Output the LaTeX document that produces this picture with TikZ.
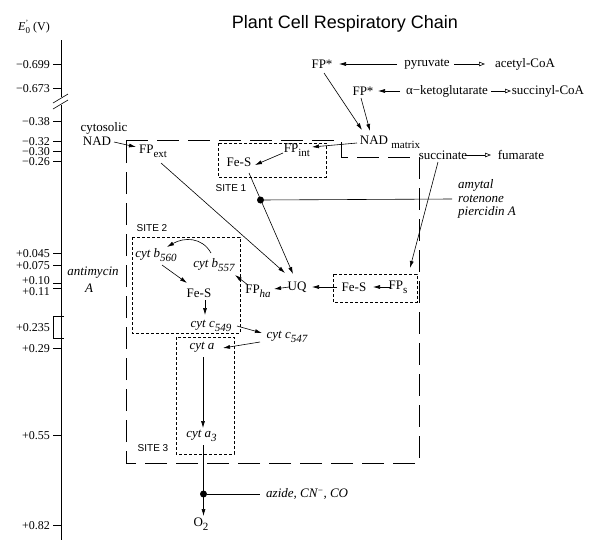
\documentclass[tikz,border=0pt]{standalone}
\usepackage{fontspec}
\setmainfont{Liberation Serif}
\newfontfamily\arialf{Liberation Sans}
\usetikzlibrary{arrows.meta,calc}
\newcommand{\sbs}[1]{\raisebox{-4pt}{\fontsize{11}{11}\selectfont #1}}
\begin{document}
\begin{tikzpicture}[x=1pt,y=-1pt,
 lbl/.style={font=\fontsize{13}{13}\selectfont, inner sep=0pt},
 itl/.style={font=\fontsize{13}{13}\selectfont\itshape, inner sep=0pt},
 sitelbl/.style={font=\arialf\fontsize{10}{10}\selectfont, inner sep=0pt},
 ticklbl/.style={font=\fontsize{12}{12}\selectfont, inner sep=0pt, anchor=east, text height=8pt, text depth=0pt},
 arr/.style={line width=0.6pt, -{Latex[length=7pt,width=4pt]}},
 oarr/.style={line width=0.6pt, -{Triangle[open,length=6pt,width=4.5pt]}},
 ln/.style={line width=0.6pt},
 dotbox/.style={line width=0.7pt, dash pattern=on 3pt off 2pt},
 bigbox/.style={line width=0.8pt, dash pattern=on 22pt off 9pt},
 blob/.style={circle, fill, inner sep=0pt, minimum size=7pt},
 axisln/.style={line width=0.8pt}]
\useasboundingbox (0,0) rectangle (600,557);

% title and axis label
\node[font=\arialf\fontsize{18}{18}\selectfont, inner sep=0pt] (title) at (345,24) {Plant Cell Respiratory Chain};
\node[inner sep=0pt, font=\fontsize{12}{12}\selectfont] (eaxis) at (34,27)
  {\textit{E}\raisebox{-3pt}{\fontsize{9}{9}\selectfont 0}\kern-4.5pt\raisebox{5pt}{\fontsize{8}{8}\selectfont\textquoteright}\kern2pt{} (V)};

% axis
\draw[axisln] (61,40) -- (61,97);
\draw[axisln] (61,105) -- (61,540);
\draw[ln] (53,103) -- (68,94);
\draw[ln] (53,109) -- (68,100);
\foreach \yy/\lab/\ly/\nm in {64/{−0.699}/64/ta,88/{−0.673}/88/tb,121/{−0.38}/121/tc,141/{−0.32}/141/td,151/{−0.30}/151/te,161/{−0.26}/161/tf,253/{+0.045}/253/tg,265/{+0.075}/265/th,283/{+0.10}/280/ti,288/{+0.11}/291/tj,348/{+0.29}/348/tk,435/{+0.55}/435/tl,525/{+0.82}/525/tm}{
  \draw[axisln] (53,\yy) -- (61,\yy);
  \node[ticklbl] (\nm) at (50,\ly) {\lab};
}
\draw[axisln] (64,316) -- (53,316) -- (53,338) -- (64,338);
\node[ticklbl] (tn) at (50,327) {+0.235};

% boxes
\draw[bigbox] (126,140) -- (341,140) -- (341,157) -- (419,157) -- (419,463) -- (126,463) -- cycle;
\draw[dotbox] (218,143) rectangle (326,177);
\draw[dotbox] (132,237) rectangle (240,333);
\draw[dotbox] (176,337) rectangle (234,454);
\draw[dotbox] (333,274) rectangle (417,302);
\node[sitelbl] (site1) at (231,188) {SITE 1};
\node[sitelbl] (site2) at (152,228) {SITE 2};
\node[sitelbl] (site3) at (153,448) {SITE 3};

% upper substrates
\node[lbl] (fp1) at (322,64) {FP*};
\node[lbl] (pyr) at (427,64) {pyruvate};
\node[lbl] (acoa) at (525,64) {acetyl-CoA};
\node[lbl] (fp2) at (363,91) {FP*};
\node[lbl] (akg) at (447,91) {α−ketoglutarate};
\node[lbl] (scoa) at (548,91) {succinyl-CoA};
\node[lbl] (nadm) at (390,142) {NAD \sbs{matrix}};
\node[lbl] (cyto) at (104,128) {cytosolic};
\node[lbl] (nadc) at (97,141) {NAD};
\node[lbl] (fpext) at (153,151) {FP\sbs{ext}};
\node[lbl] (fpint) at (297,150) {FP\sbs{int}};
\node[lbl] (fes1) at (239,162) {Fe-S};
\node[lbl] (succ) at (443,155) {succinate};
\node[lbl] (fum) at (521,155) {fumarate};
\node[itl, anchor=west] (amy1) at (458,185) {amytal};
\node[itl, anchor=west] (amy2) at (458,199) {rotenone};
\node[itl, anchor=west] (amy3) at (458,212) {piercidin A};
\node[blob] (dot1) at (260.5,200) {};

% middle
\node[lbl] (uq) at (297,287) {UQ};
\node[lbl] (fes3) at (354,287) {Fe-S};
\node[lbl] (fps) at (398,287) {FP\sbs{s}};
\node[lbl] (fpha) at (258,291) {FP\sbs{\itshape ha}};
\node[itl] (b560) at (156,255) {cyt b\sbs{560}};
\node[itl] (b557) at (214,265) {cyt b\sbs{557}};
\node[lbl] (fes2) at (199,293) {Fe-S};
\node[itl] (c549) at (211,326) {cyt c\sbs{549}};
\node[itl] (c547) at (287,337) {cyt c\sbs{547}};
\node[itl] (cyta) at (202,347) {cyt a};
\node[itl] (cyta3) at (201.5,436) {cyt a\sbs{3}};
\node[blob] (dot2) at (203.5,494) {};
\node[lbl] (o2) at (201,524) {O\sbs{2}};
\node[itl, anchor=west] (azide) at (266,494) {azide, CN\raisebox{4pt}{\fontsize{9}{9}\selectfont −}, CO};
\node[itl] (anti1) at (93,273) {antimycin};
\node[itl] (anti2) at (89,288) {A};

% connectors
\draw[arr] ($(pyr)+(-30,0)$) -- ($(fp1)+(17,0)$);
\draw[oarr] ($(pyr)+(27,0)$) -- ($(acoa)+(-40,0)$);
\draw[arr] ($(akg)+(-47,0)$) -- ($(fp2)+(15,0)$);
\draw[oarr] ($(akg)+(44,0)$) -- ($(scoa)+(-37,0)$);
\draw[arr] ($(fp1)+(2,9)$) -- ($(nadm)+(-28,-12)$);
\draw[arr] ($(fp2)+(-2,7)$) -- ($(nadm)+(-20,-11)$);
\draw[arr] ($(nadm)+(-33,1)$) -- ($(fpint)+(15,-3)$);
\draw[arr] ($(fpint)+(-14,3)$) -- ($(fes1)+(16,3)$);
\draw[arr] ($(nadc)+(17,1)$) -- ($(fpext)+(-17,-4)$);
\draw[arr] ($(fpext)+(8,12)$) -- ($(uq)+(-12,-14)$);
\draw[arr] ($(fes1)+(10,11)$) -- ($(uq)+(-4,-13)$);
\draw[ln] (dot1) -- ($(amy2.west)+(-6,0)$);
\draw[arr] ($(succ)+(-5,7)$) -- ($(fps)+(12,-19)$);
\draw[oarr] ($(succ)+(22,0)$) -- ($(fum)+(-30,0)$);
\draw[arr] ($(fps)+(-8,0)$) -- ($(fes3)+(19,0)$);
\draw[arr] ($(fes3)+(-17,0)$) -- ($(uq)+(15,0)$);
\draw[arr] ($(uq)+(-8,0)$) -- ($(fpha)+(16,-2)$);
\draw[arr] ($(fpha)+(-10,-6)$) -- ($(b557)+(21,10)$);
\draw[arr] ($(b557)+(-3,-12)$) .. controls ($(b557)+(-12,-28)$) and ($(b560)+(28,-18)$) .. ($(b560)+(11,-8)$);
\draw[arr] ($(b560)+(6,10)$) -- ($(fes2)+(-12,-10)$);
\draw[arr] ($(fes2)+(6,7)$) -- ($(c549)+(-6,-11)$);
\draw[arr] ($(c549)+(26,0)$) -- ($(c547)+(-25,-4)$);
\draw[arr] ($(c547)+(-27,5)$) -- ($(cyta)+(21,1)$);
\draw[arr] ($(cyta)+(1,10)$) -- ($(cyta3)+(1.5,-8)$);
\draw[arr] ($(cyta3)+(2,9)$) -- ($(o2)+(2.5,-8)$);
\draw[ln] (dot2) -- ($(azide.west)+(-6,0)$);
\end{tikzpicture}
\end{document}
